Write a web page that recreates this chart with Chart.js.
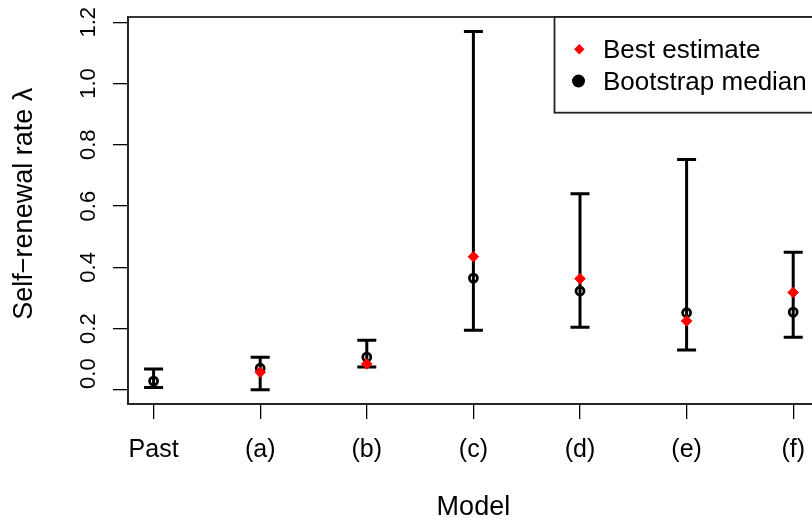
<!DOCTYPE html>
<html>
<head>
<meta charset="utf-8">
<script src="https://cdn.jsdelivr.net/npm/chart.js@4.4.1/dist/chart.umd.min.js"></script>
<style>
html,body{margin:0;padding:0;background:#fff;overflow:hidden;width:812px;height:522px;}
#wrap{position:absolute;left:0;top:0;width:821px;height:522px;}
</style>
</head>
<body>
<div id="wrap"><canvas id="c" width="821" height="522"></canvas></div>
<script>
// ---- data ----
const categories   = ['Past', '(a)', '(b)', '(c)', '(d)', '(e)', '(f)'];
const bestEstimate = [null, 0.058, 0.085, 0.435, 0.363, 0.225, 0.318];
const bootMedian   = [0.029, 0.071, 0.107, 0.365, 0.323, 0.252, 0.254];
const ciLower      = [0.008, 0.001, 0.075, 0.195, 0.205, 0.130, 0.172];
const ciUpper      = [0.068, 0.107, 0.162, 1.170, 0.640, 0.752, 0.449];
const yTickValues  = [0.0, 0.2, 0.4, 0.6, 0.8, 1.0, 1.2];
const yTickLabels  = ['0.0', '0.2', '0.4', '0.6', '0.8', '1.0', '1.2'];
const legendLabels = ['Best estimate', 'Bootstrap median'];

const FONT = '"Liberation Sans", Arial, Helvetica, sans-serif';

const bestPts = bestEstimate.map((v, i) => ({x: i + 1, y: v}));
const medPts  = bootMedian.map((v, i) => ({x: i + 1, y: v}));

const errorBars = {
  id: 'errorBars',
  beforeDatasetsDraw(chart) {
    const {ctx, scales: {x, y}} = chart;
    ctx.save();
    ctx.strokeStyle = '#000';
    ctx.lineWidth = 3;
    ctx.lineCap = 'butt';
    for (let i = 0; i < categories.length; i++) {
      const px = x.getPixelForValue(i + 1);
      const p1 = y.getPixelForValue(ciLower[i]);
      const p2 = y.getPixelForValue(ciUpper[i]);
      ctx.beginPath();
      ctx.moveTo(px, p1); ctx.lineTo(px, p2);
      ctx.moveTo(px - 9.5, p1); ctx.lineTo(px + 9.5, p1);
      ctx.moveTo(px - 9.5, p2); ctx.lineTo(px + 9.5, p2);
      ctx.stroke();
    }
    ctx.restore();
  }
};

const decorations = {
  id: 'decorations',
  afterDraw(chart) {
    const {ctx, chartArea: a, scales: {y}} = chart;
    ctx.save();
    // plot box
    ctx.strokeStyle = '#222';
    ctx.lineWidth = 1.8;
    ctx.strokeRect(a.left, a.top, a.right + 20 - a.left, a.bottom - a.top);
    // rotated y tick labels (lowest label kept inside the axis extent, as in the original)
    ctx.fillStyle = '#000';
    ctx.font = '22px ' + FONT;
    ctx.textBaseline = 'alphabetic';
    yTickValues.forEach((v, i) => {
      const py = y.getPixelForValue(v);
      ctx.save();
      ctx.translate(95, py);
      ctx.rotate(-Math.PI / 2);
      if (i === 0) { ctx.textAlign = 'left'; ctx.fillText(yTickLabels[i], 1, 0); }
      else { ctx.textAlign = 'center'; ctx.fillText(yTickLabels[i], 0, 0); }
      ctx.restore();
    });
    // legend
    const lx = 554.5, ly = a.top, lb = 112.7;
    ctx.fillStyle = '#fff';
    ctx.fillRect(lx, ly, 300, lb - ly);
    ctx.strokeStyle = '#222';
    ctx.lineWidth = 1.8;
    ctx.strokeRect(lx, ly, 300, lb - ly);
    // diamond
    ctx.fillStyle = '#ff0000';
    ctx.beginPath();
    ctx.moveTo(579.3, 49.3 - 5.2); ctx.lineTo(579.3 + 5.2, 49.3);
    ctx.lineTo(579.3, 49.3 + 5.2); ctx.lineTo(579.3 - 5.2, 49.3);
    ctx.closePath(); ctx.fill();
    // circle
    ctx.fillStyle = '#000';
    ctx.beginPath();
    ctx.arc(578.5, 81, 6.5, 0, Math.PI * 2);
    ctx.fill();
    ctx.font = '26px ' + FONT;
    ctx.textAlign = 'left';
    ctx.fillText(legendLabels[0], 603, 57.7);
    ctx.fillText(legendLabels[1], 603, 90);
    ctx.restore();
  }
};

new Chart(document.getElementById('c'), {
  type: 'scatter',
  data: {
    datasets: [
      {
        label: legendLabels[0],
        data: bestPts,
        order: 0,
        pointStyle: 'rectRot',
        pointRadius: 5.3,
        pointHoverRadius: 5.3,
        backgroundColor: '#ff0000',
        borderColor: '#ff0000',
        borderWidth: 1
      },
      {
        label: legendLabels[1],
        data: medPts,
        order: 1,
        pointStyle: 'circle',
        pointRadius: 4,
        pointHoverRadius: 4,
        backgroundColor: 'rgba(0,0,0,0)',
        borderColor: '#000',
        borderWidth: 2.8
      }
    ]
  },
  options: {
    responsive: false,
    animation: false,
    events: [],
    layout: {autoPadding: false, padding: {top: 17, left: 0, right: 0, bottom: 0}},
    plugins: {legend: {display: false}, tooltip: {enabled: false}},
    scales: {
      x: {
        type: 'linear',
        min: 0.76,
        max: 7.24,
        afterBuildTicks(s) { s.ticks = categories.map((c, i) => ({value: i + 1})); },
        afterFit(s) { s.height = 118; },
        grid: {display: true, drawOnChartArea: false, drawTicks: true, tickLength: 15, color: '#000', lineWidth: 1.3},
        border: {display: true, color: '#222', width: 1.8},
        ticks: {
          autoSkip: false,
          maxRotation: 0,
          minRotation: 0,
          padding: 16,
          color: '#000',
          font: {family: FONT, size: 25},
          callback: (v) => categories[Math.round(v) - 1]
        },
        title: {display: true, text: 'Model', color: '#000', font: {family: FONT, size: 27, lineHeight: 1.1}, padding: {top: 0, bottom: 0}}
      },
      y: {
        type: 'linear',
        min: -0.0458,
        max: 1.217,
        afterBuildTicks(s) { s.ticks = yTickValues.map(v => ({value: v})); },
        afterFit(s) { s.width = 128; },
        grid: {display: true, drawOnChartArea: false, drawTicks: true, tickLength: 15, color: '#000', lineWidth: 1.3},
        border: {display: true, color: '#222', width: 1.8},
        ticks: {display: false},
        title: {display: true, text: '\u2002Self\u2212renewal rate \u03bb', color: '#000', font: {family: FONT, size: 27}, padding: {top: 8, bottom: 0}}
      }
    }
  },
  plugins: [errorBars, decorations]
});
</script>
</body>
</html>
